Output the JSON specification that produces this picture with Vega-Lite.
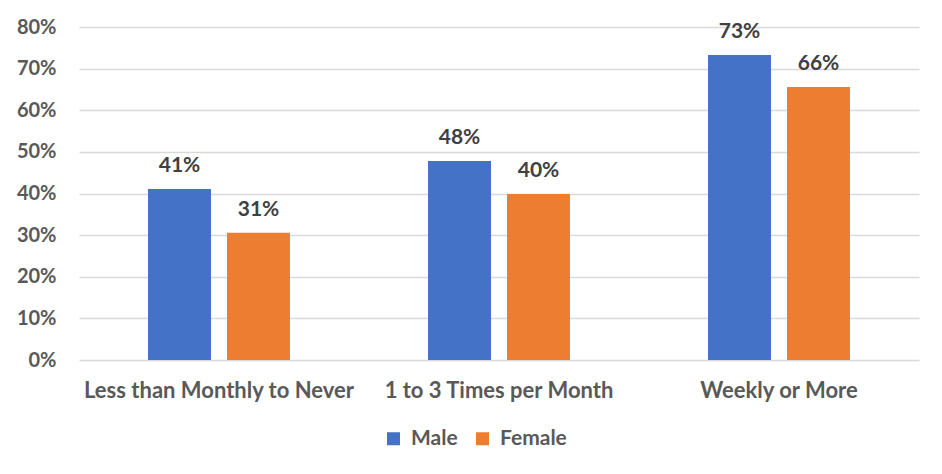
{
  "$schema": "https://vega.github.io/schema/vega-lite/v6.json",
  "width": 840,
  "height": 333,
  "autosize": {"type": "none"},
  "padding": {"left": 79, "top": 27, "right": 23, "bottom": 114},
  "background": "white",
  "data": {
    "values": [
      {"frequency": "Less than Monthly to Never", "gender": "Male", "share": 0.411},
      {"frequency": "Less than Monthly to Never", "gender": "Female", "share": 0.306},
      {"frequency": "1 to 3 Times per Month", "gender": "Male", "share": 0.478},
      {"frequency": "1 to 3 Times per Month", "gender": "Female", "share": 0.399},
      {"frequency": "Weekly or More", "gender": "Male", "share": 0.733},
      {"frequency": "Weekly or More", "gender": "Female", "share": 0.656}
    ]
  },
  "encoding": {
    "x": {
      "field": "frequency",
      "type": "nominal",
      "sort": null,
      "scale": {"paddingInner": 0.493, "paddingOuter": 0.2465},
      "axis": {
        "title": null,
        "labelAngle": 0,
        "labelLimit": 0,
        "ticks": false,
        "domain": false,
        "labelPadding": 20,
        "labelFont": "Lato",
        "labelFontWeight": "bold",
        "labelFontSize": 22,
        "labelColor": "#595959"
      }
    },
    "xOffset": {
      "field": "gender",
      "type": "nominal",
      "sort": ["Male", "Female"],
      "scale": {"paddingInner": 0.2025, "paddingOuter": 0}
    },
    "y": {
      "field": "share",
      "type": "quantitative",
      "scale": {"domain": [0, 0.8]},
      "axis": {
        "title": null,
        "format": ".0%",
        "values": [0, 0.1, 0.2, 0.3, 0.4, 0.5, 0.6, 0.7, 0.8],
        "domain": false,
        "ticks": false,
        "labelPadding": 23,
        "labelFont": "Lato",
        "labelFontWeight": "bold",
        "labelFontSize": 20,
        "labelColor": "#595959",
        "gridColor": "#d9d9d9",
        "gridWidth": 1.3
      }
    }
  },
  "layer": [
    {
      "mark": {"type": "bar"},
      "encoding": {
        "color": {
          "field": "gender",
          "type": "nominal",
          "scale": {"domain": ["Male", "Female"], "range": ["#4472C4", "#ED7D31"]},
          "legend": {
            "title": null,
            "orient": "none",
            "direction": "horizontal",
            "legendX": 304,
            "legendY": 401,
            "symbolType": "square",
            "symbolSize": 169,
            "symbolStrokeWidth": 0,
            "labelFont": "Lato",
            "labelFontWeight": "bold",
            "labelFontSize": 21,
            "labelColor": "#595959",
            "labelOffset": 7,
            "columnPadding": 14
          }
        }
      }
    },
    {
      "mark": {
        "type": "text",
        "baseline": "alphabetic",
        "dy": -17,
        "font": "Lato",
        "fontWeight": "bold",
        "fontSize": 21,
        "color": "#404040"
      },
      "encoding": {
        "text": {"field": "share", "type": "quantitative", "format": ".0%"}
      }
    }
  ],
  "config": {
    "view": {"stroke": null}
  }
}
